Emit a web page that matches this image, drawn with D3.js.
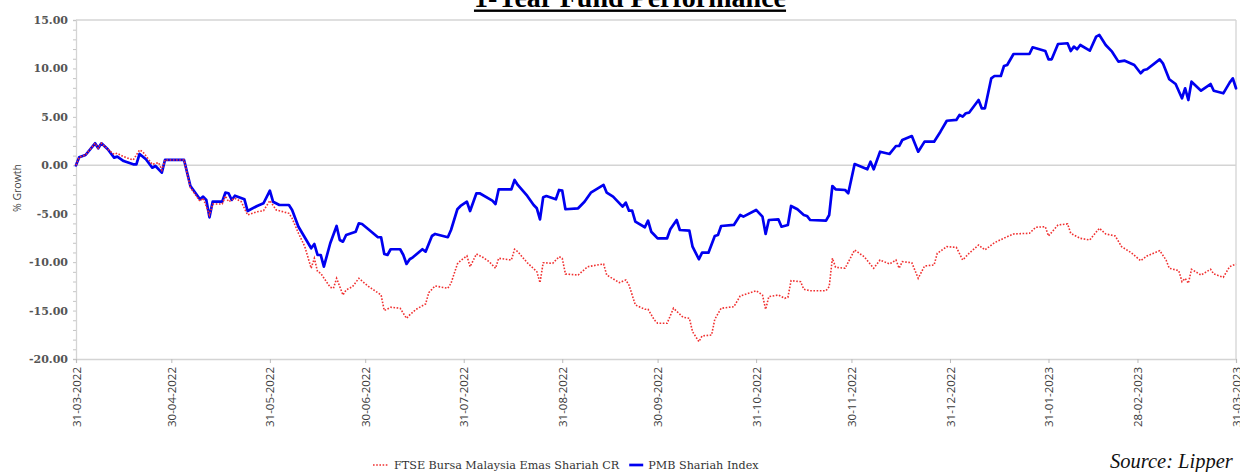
<!DOCTYPE html>
<html><head><meta charset="utf-8">
<script src="https://cdn.jsdelivr.net/npm/d3@7"></script>
<style>body{margin:0;background:#fff;} svg{display:block}</style>
</head><body>
<svg id="c" width="1240" height="472"></svg>
<script>
const titleText = "1-Year Fund Performance";
const yAxisTitle = "% Growth";
const seriesNames = ["FTSE Bursa Malaysia Emas Shariah CR", "PMB Shariah Index"];
const sourceText = "Source: Lipper";
const xTickDates = ["2022-03-31","2022-04-30","2022-05-31","2022-06-30","2022-07-31","2022-08-31","2022-09-30","2022-10-31","2022-11-30","2022-12-31","2023-01-31","2023-02-28","2023-03-31"];
const yTickValues = [-20,-15,-10,-5,0,5,10,15];

// FTSE Bursa Malaysia Emas Shariah CR: [date, % growth]
const ftseSeries = [["2022-03-31",0.00],["2022-04-01",0.83],["2022-04-03",1.06],["2022-04-06",2.27],["2022-04-07",1.75],["2022-04-08",2.27],["2022-04-10",1.65],["2022-04-12",1.13],["2022-04-13",1.24],["2022-04-15",0.89],["2022-04-18",0.55],["2022-04-20",1.58],["2022-04-21",1.40],["2022-04-24",0.10],["2022-04-26",0.27],["2022-04-27",-0.48],["2022-04-28",0.55],["2022-05-04",0.55],["2022-05-06",-2.30],["2022-05-09",-3.70],["2022-05-10",-3.40],["2022-05-12",-5.13],["2022-05-13",-4.00],["2022-05-16",-4.00],["2022-05-17",-3.17],["2022-05-18",-3.76],["2022-05-20",-3.41],["2022-05-22",-3.76],["2022-05-24",-5.13],["2022-05-27",-4.79],["2022-05-29",-4.69],["2022-05-31",-3.65],["2022-06-02",-4.61],["2022-06-06",-4.96],["2022-06-07",-5.47],["2022-06-09",-7.02],["2022-06-11",-8.40],["2022-06-13",-10.63],["2022-06-14",-9.60],["2022-06-15",-10.98],["2022-06-16",-11.15],["2022-06-19",-12.60],["2022-06-20",-12.70],["2022-06-21",-11.67],["2022-06-23",-13.39],["2022-06-24",-12.87],["2022-06-26",-12.53],["2022-06-28",-11.67],["2022-07-01",-12.50],["2022-07-05",-13.39],["2022-07-06",-15.00],["2022-07-08",-14.66],["2022-07-11",-14.76],["2022-07-13",-15.80],["2022-07-14",-15.45],["2022-07-16",-14.87],["2022-07-19",-14.32],["2022-07-20",-13.15],["2022-07-22",-12.46],["2022-07-26",-12.70],["2022-07-27",-12.18],["2022-07-29",-10.19],["2022-07-30",-9.85],["2022-08-01",-9.36],["2022-08-02",-10.47],["2022-08-04",-9.16],["2022-08-06",-9.50],["2022-08-08",-9.95],["2022-08-10",-10.63],["2022-08-11",-9.60],["2022-08-15",-9.78],["2022-08-16",-8.67],["2022-08-17",-8.92],["2022-08-20",-10.06],["2022-08-23",-10.98],["2022-08-24",-12.12],["2022-08-25",-10.06],["2022-08-28",-10.12],["2022-08-30",-9.44],["2022-08-31",-9.60],["2022-09-01",-11.22],["2022-09-05",-11.33],["2022-09-08",-10.47],["2022-09-13",-10.19],["2022-09-14",-11.33],["2022-09-18",-12.12],["2022-09-20",-11.84],["2022-09-21",-12.36],["2022-09-23",-14.42],["2022-09-26",-14.87],["2022-09-27",-14.87],["2022-09-29",-15.97],["2022-09-30",-16.31],["2022-10-03",-16.31],["2022-10-05",-14.76],["2022-10-08",-15.69],["2022-10-10",-15.80],["2022-10-11",-17.18],["2022-10-13",-18.21],["2022-10-14",-17.62],["2022-10-17",-17.52],["2022-10-18",-15.90],["2022-10-20",-14.76],["2022-10-24",-14.60],["2022-10-26",-13.49],["2022-10-31",-12.95],["2022-11-02",-13.39],["2022-11-03",-14.87],["2022-11-04",-13.56],["2022-11-07",-13.39],["2022-11-09",-13.73],["2022-11-10",-13.63],["2022-11-11",-11.91],["2022-11-14",-12.02],["2022-11-15",-12.80],["2022-11-17",-12.95],["2022-11-22",-12.95],["2022-11-23",-12.53],["2022-11-24",-9.60],["2022-11-25",-10.53],["2022-11-28",-10.63],["2022-12-01",-8.74],["2022-12-04",-9.44],["2022-12-07",-10.63],["2022-12-09",-9.78],["2022-12-12",-10.19],["2022-12-14",-9.78],["2022-12-15",-10.63],["2022-12-16",-9.95],["2022-12-19",-10.06],["2022-12-21",-11.67],["2022-12-23",-10.40],["2022-12-26",-10.29],["2022-12-27",-9.09],["2022-12-30",-8.40],["2023-01-02",-8.47],["2023-01-04",-9.78],["2023-01-06",-9.09],["2023-01-09",-8.23],["2023-01-11",-8.74],["2023-01-14",-7.99],["2023-01-18",-7.37],["2023-01-20",-7.09],["2023-01-25",-7.02],["2023-01-27",-6.40],["2023-01-30",-6.34],["2023-01-31",-7.30],["2023-02-03",-6.16],["2023-02-06",-6.06],["2023-02-07",-7.02],["2023-02-10",-7.54],["2023-02-13",-7.71],["2023-02-16",-6.50],["2023-02-18",-7.09],["2023-02-21",-7.30],["2023-02-23",-8.40],["2023-02-26",-9.02],["2023-03-01",-9.85],["2023-03-03",-9.36],["2023-03-07",-8.81],["2023-03-09",-9.78],["2023-03-10",-10.63],["2023-03-13",-10.88],["2023-03-14",-12.02],["2023-03-15",-11.67],["2023-03-16",-12.18],["2023-03-17",-10.74],["2023-03-20",-11.33],["2023-03-23",-10.74],["2023-03-24",-11.22],["2023-03-27",-11.56],["2023-03-29",-10.47],["2023-03-31",-10.19]];

// PMB Shariah Index: [date, % growth]
const pmbSeries = [["2022-03-31",0.00],["2022-04-01",0.83],["2022-04-03",1.06],["2022-04-06",2.27],["2022-04-07",1.75],["2022-04-08",2.27],["2022-04-10",1.65],["2022-04-12",0.79],["2022-04-13",0.89],["2022-04-15",0.44],["2022-04-18",0.10],["2022-04-19",0.10],["2022-04-20",1.17],["2022-04-22",0.62],["2022-04-24",-0.25],["2022-04-25",-0.07],["2022-04-27",-0.76],["2022-04-28",0.55],["2022-05-04",0.55],["2022-05-06",-2.14],["2022-05-09",-3.51],["2022-05-10",-3.24],["2022-05-11",-3.58],["2022-05-12",-5.37],["2022-05-13",-3.76],["2022-05-16",-3.76],["2022-05-17",-2.83],["2022-05-18",-2.89],["2022-05-19",-3.58],["2022-05-20",-3.14],["2022-05-23",-3.51],["2022-05-24",-4.72],["2022-05-27",-4.20],["2022-05-29",-3.92],["2022-05-31",-2.62],["2022-06-01",-3.76],["2022-06-03",-4.10],["2022-06-06",-4.10],["2022-06-07",-4.61],["2022-06-09",-6.34],["2022-06-13",-8.57],["2022-06-14",-8.13],["2022-06-15",-9.26],["2022-06-16",-9.26],["2022-06-17",-10.47],["2022-06-19",-8.05],["2022-06-21",-6.27],["2022-06-22",-7.71],["2022-06-23",-7.89],["2022-06-24",-7.20],["2022-06-27",-6.86],["2022-06-28",-5.99],["2022-06-29",-6.06],["2022-07-01",-6.60],["2022-07-04",-7.43],["2022-07-05",-7.43],["2022-07-06",-9.16],["2022-07-07",-9.26],["2022-07-08",-8.67],["2022-07-11",-8.67],["2022-07-12",-9.26],["2022-07-13",-10.19],["2022-07-14",-9.70],["2022-07-15",-9.50],["2022-07-18",-8.67],["2022-07-19",-8.92],["2022-07-21",-7.30],["2022-07-22",-7.09],["2022-07-26",-7.43],["2022-07-27",-6.68],["2022-07-29",-4.54],["2022-07-30",-4.20],["2022-08-01",-3.76],["2022-08-02",-4.72],["2022-08-04",-2.89],["2022-08-05",-2.89],["2022-08-09",-3.65],["2022-08-10",-4.00],["2022-08-11",-2.48],["2022-08-15",-2.48],["2022-08-16",-1.52],["2022-08-17",-2.03],["2022-08-20",-3.17],["2022-08-22",-4.10],["2022-08-23",-4.44],["2022-08-24",-5.58],["2022-08-25",-3.30],["2022-08-26",-3.17],["2022-08-29",-3.51],["2022-08-30",-2.55],["2022-08-31",-2.62],["2022-09-01",-4.54],["2022-09-05",-4.44],["2022-09-07",-3.76],["2022-09-09",-2.83],["2022-09-13",-2.03],["2022-09-14",-2.83],["2022-09-16",-3.24],["2022-09-19",-4.27],["2022-09-20",-3.86],["2022-09-21",-4.69],["2022-09-22",-4.69],["2022-09-23",-5.82],["2022-09-26",-6.40],["2022-09-27",-5.72],["2022-09-28",-6.86],["2022-09-29",-7.20],["2022-09-30",-7.54],["2022-10-03",-7.54],["2022-10-04",-6.61],["2022-10-06",-5.65],["2022-10-07",-6.68],["2022-10-10",-6.75],["2022-10-11",-8.40],["2022-10-13",-9.70],["2022-10-14",-9.02],["2022-10-16",-9.02],["2022-10-18",-7.30],["2022-10-19",-7.20],["2022-10-20",-6.27],["2022-10-24",-6.16],["2022-10-26",-5.13],["2022-10-27",-5.30],["2022-10-31",-4.61],["2022-11-02",-5.30],["2022-11-03",-7.09],["2022-11-04",-5.65],["2022-11-07",-5.58],["2022-11-08",-6.34],["2022-11-10",-6.16],["2022-11-11",-4.20],["2022-11-13",-4.54],["2022-11-15",-5.13],["2022-11-16",-5.23],["2022-11-17",-5.65],["2022-11-22",-5.72],["2022-11-23",-5.13],["2022-11-24",-2.14],["2022-11-25",-2.48],["2022-11-28",-2.55],["2022-11-29",-2.89],["2022-12-01",0.13],["2022-12-05",-0.41],["2022-12-06",0.37],["2022-12-07",-0.41],["2022-12-09",1.40],["2022-12-12",1.17],["2022-12-14",1.99],["2022-12-15",1.99],["2022-12-16",2.61],["2022-12-19",3.02],["2022-12-21",1.40],["2022-12-23",2.44],["2022-12-26",2.44],["2022-12-28",3.47],["2022-12-30",4.60],["2023-01-02",4.68],["2023-01-03",5.19],["2023-01-04",5.02],["2023-01-05",5.37],["2023-01-06",5.43],["2023-01-09",6.74],["2023-01-10",5.88],["2023-01-11",5.88],["2023-01-13",8.98],["2023-01-14",9.22],["2023-01-16",9.22],["2023-01-17",10.25],["2023-01-18",10.35],["2023-01-20",11.49],["2023-01-25",11.49],["2023-01-26",12.18],["2023-01-30",11.80],["2023-01-31",10.94],["2023-02-01",10.94],["2023-02-03",12.52],["2023-02-06",12.60],["2023-02-07",11.80],["2023-02-08",12.25],["2023-02-09",11.98],["2023-02-10",12.42],["2023-02-13",11.83],["2023-02-15",13.28],["2023-02-16",13.45],["2023-02-18",12.42],["2023-02-20",11.73],["2023-02-22",10.70],["2023-02-24",10.80],["2023-02-27",10.35],["2023-03-01",9.50],["2023-03-02",9.84],["2023-03-03",9.91],["2023-03-07",10.94],["2023-03-08",10.53],["2023-03-10",8.88],["2023-03-12",8.39],["2023-03-14",6.92],["2023-03-15",7.95],["2023-03-16",6.74],["2023-03-17",8.63],["2023-03-20",7.70],["2023-03-23",8.39],["2023-03-24",7.70],["2023-03-27",7.43],["2023-03-29",8.53],["2023-03-30",8.98],["2023-03-31",7.95]];

const svg = d3.select("#c");
const parse = d3.timeParse("%Y-%m-%d");
const plot = {left: 76, right: 1236, top: 20, bottom: 359};

const x = d3.scaleTime()
  .domain([parse(xTickDates[0]), parse(xTickDates[xTickDates.length - 1])])
  .range([plot.left, plot.right]);
const y = d3.scaleLinear()
  .domain([d3.min(yTickValues), d3.max(yTickValues)])
  .range([plot.bottom, plot.top]);

const gridColor = "#d4d4d4";

// frame (top, right) and zero line
svg.append("line").attr("x1", plot.left).attr("x2", plot.right).attr("y1", plot.top).attr("y2", plot.top)
  .attr("stroke", gridColor).attr("stroke-width", 1.3);
svg.append("line").attr("x1", plot.right).attr("x2", plot.right).attr("y1", plot.top).attr("y2", plot.bottom)
  .attr("stroke", gridColor).attr("stroke-width", 1.3);
svg.append("line").attr("x1", plot.left).attr("x2", plot.right).attr("y1", y(0)).attr("y2", y(0))
  .attr("stroke", gridColor).attr("stroke-width", 1.5);

// y minor ticks
const minorVals = d3.range(d3.min(yTickValues), d3.max(yTickValues) + 0.5, 1);
const yMinor = svg.append("g").attr("transform", `translate(${plot.left},0)`)
  .call(d3.axisLeft(y).tickValues(minorVals).tickSize(3).tickFormat(""));
yMinor.select(".domain").attr("stroke", gridColor).attr("stroke-width", 1.3);
yMinor.selectAll(".tick line").attr("stroke", "#c4c4c4");

// y major labels
const yMajor = svg.append("g").attr("transform", `translate(${plot.left},0)`)
  .call(d3.axisLeft(y).tickValues(yTickValues).tickSize(0).tickPadding(8).tickFormat(v => v.toFixed(2)));
yMajor.select(".domain").remove();
yMajor.selectAll(".tick text")
  .attr("font-family", "'DejaVu Serif', serif").attr("font-size", 11).attr("font-weight", "bold")
  .attr("fill", "#555");

// x axis
const xAxis = svg.append("g").attr("transform", `translate(0,${plot.bottom})`)
  .call(d3.axisBottom(x).tickValues(xTickDates.map(parse)).tickSize(4).tickFormat(d3.timeFormat("%d-%m-%Y")));
xAxis.select(".domain").attr("stroke", gridColor).attr("stroke-width", 1.3);
xAxis.selectAll(".tick line").attr("stroke", "#bbb");
xAxis.selectAll(".tick text")
  .attr("transform", "rotate(-90)")
  .attr("x", -8).attr("y", 0).attr("dy", "0.35em")
  .attr("text-anchor", "end")
  .attr("font-family", "'Open Sans', sans-serif").attr("font-size", 11.5)
  .attr("fill", "#3a3a3a");

// y axis title
svg.append("text").attr("transform", "translate(21,188) rotate(-90)")
  .attr("text-anchor", "middle")
  .attr("font-family", "'Open Sans', sans-serif").attr("font-size", 10.5).attr("fill", "#444")
  .text(yAxisTitle);

// lines
const line = d3.line().x(d => x(parse(d[0]))).y(d => y(d[1]));
svg.append("path").datum(pmbSeries).attr("d", line)
  .attr("fill", "none").attr("stroke", "#0000f0").attr("stroke-width", 2.7)
  .attr("stroke-linejoin", "round").attr("stroke-linecap", "round");
svg.append("path").datum(ftseSeries).attr("d", line)
  .attr("fill", "none").attr("stroke", "#f03030").attr("stroke-width", 1.6)
  .attr("stroke-dasharray", "1.6,1.6");

// title
const t = svg.append("text").attr("x", 630).attr("y", 7).attr("text-anchor", "middle")
  .attr("font-family", "'Liberation Serif', 'Times New Roman', serif").attr("font-size", 28).attr("font-weight", "bold")
  .attr("fill", "#000").text(titleText);
const tb = t.node().getBBox();
svg.append("rect").attr("x", tb.x).attr("y", 9.5).attr("width", tb.width).attr("height", 2.4).attr("fill", "#000");

// legend
const legY = 465;
const legFont = 11.2;
const lg = svg.append("g");
lg.append("line").attr("x1", 373).attr("x2", 389).attr("y1", legY).attr("y2", legY)
  .attr("stroke", "#f03030").attr("stroke-width", 1.6).attr("stroke-dasharray", "1.6,1.6");
const l1 = lg.append("text").attr("x", 394).attr("y", legY + 4)
  .attr("font-family", "'DejaVu Serif', serif").attr("font-size", legFont).attr("fill", "#333")
  .text(seriesNames[0]);
const l1end = 394 + l1.node().getComputedTextLength();
lg.append("line").attr("x1", l1end + 10).attr("x2", l1end + 24).attr("y1", legY).attr("y2", legY)
  .attr("stroke", "#0000f0").attr("stroke-width", 2.7);
lg.append("text").attr("x", l1end + 29).attr("y", legY + 4)
  .attr("font-family", "'DejaVu Serif', serif").attr("font-size", legFont).attr("fill", "#333")
  .text(seriesNames[1]);

// source
svg.append("text").attr("x", 1110).attr("y", 468)
  .attr("font-family", "'Liberation Serif', serif").attr("font-style", "italic").attr("font-size", 20.5)
  .attr("fill", "#111").text(sourceText);
</script>
</body></html>
